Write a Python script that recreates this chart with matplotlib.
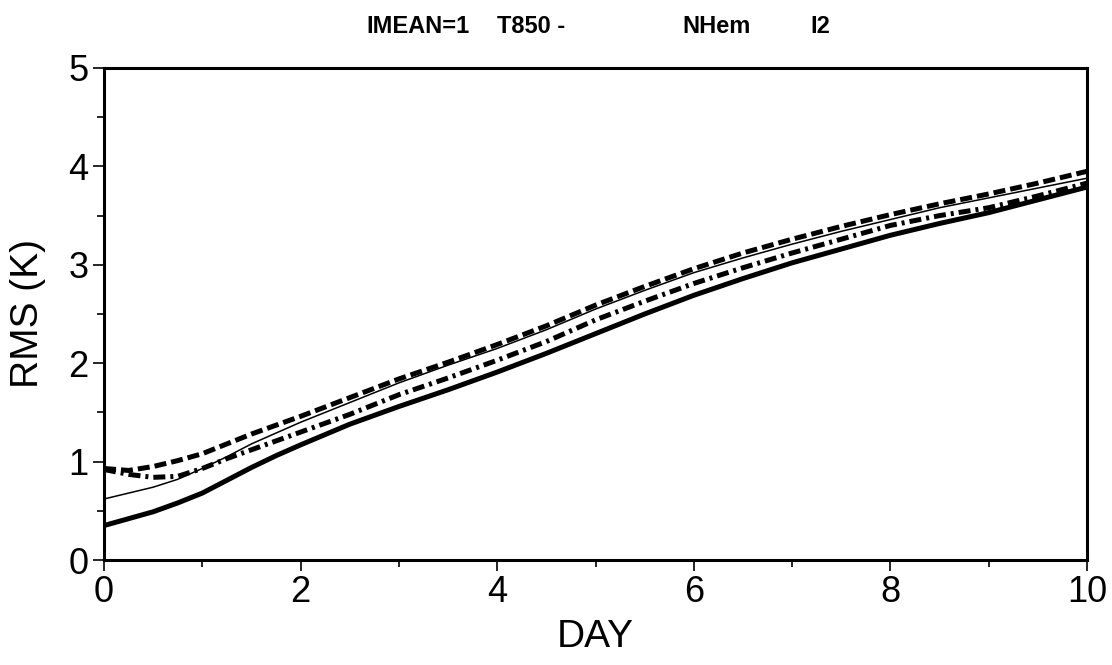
import matplotlib
matplotlib.use('Agg')
import matplotlib.pyplot as plt
from matplotlib.ticker import MultipleLocator
import numpy as np

plt.rcParams['font.family'] = ['Liberation Sans', 'DejaVu Sans']

# forecast day
day = [0, 0.25, 0.5, 0.75, 1, 1.25, 1.5, 1.75, 2, 2.5, 3, 3.5, 4, 4.5, 5, 5.5, 6, 6.5, 7, 7.5, 8, 8.5, 9, 9.5, 10]

# RMS error curves (K)
rms_thick = [0.35, 0.42, 0.49, 0.58, 0.68, 0.81, 0.94, 1.06, 1.17, 1.38, 1.56, 1.73, 1.91, 2.10, 2.30, 2.50, 2.69, 2.86, 3.02, 3.16, 3.30, 3.42, 3.53, 3.66, 3.79]
rms_thin = [0.62, 0.68, 0.74, 0.82, 0.93, 1.05, 1.18, 1.29, 1.40, 1.60, 1.80, 1.98, 2.15, 2.34, 2.55, 2.74, 2.92, 3.07, 3.21, 3.34, 3.46, 3.58, 3.68, 3.78, 3.88]
rms_dash = [0.93, 0.91, 0.95, 1.01, 1.08, 1.18, 1.28, 1.37, 1.46, 1.65, 1.84, 2.01, 2.19, 2.38, 2.59, 2.78, 2.96, 3.12, 3.26, 3.39, 3.51, 3.62, 3.72, 3.83, 3.95]
rms_dashdot = [0.92, 0.87, 0.84, 0.85, 0.93, 1.03, 1.12, 1.21, 1.30, 1.48, 1.68, 1.85, 2.03, 2.22, 2.44, 2.63, 2.81, 2.97, 3.12, 3.26, 3.40, 3.50, 3.58, 3.70, 3.83]

W, H = 1112, 665
fig = plt.figure(figsize=(W / 100, H / 100), dpi=100)
ax = fig.add_axes([104 / W, 1 - 560 / H, (1087 - 104) / W, (560 - 68) / H])

ax.plot(day, rms_thick, color='black', lw=3.6, solid_capstyle='butt')
ax.plot(day, rms_thin, color='black', lw=1.1)
ax.plot(day, rms_dash, color='black', lw=3.6, linestyle=(0, (2.4, 1.0)))
ax.plot(day, rms_dashdot, color='black', lw=3.6, linestyle=(0, (2.4, 1.0, 0.6, 1.0)))

ax.set_xlim(0, 10)
ax.set_ylim(0, 5)
ax.xaxis.set_major_locator(MultipleLocator(2))
ax.xaxis.set_minor_locator(MultipleLocator(1))
ax.yaxis.set_major_locator(MultipleLocator(1))
ax.yaxis.set_minor_locator(MultipleLocator(0.5))
ax.tick_params(which='major', direction='out', length=8, width=1.2, labelsize=26, pad=3)
ax.tick_params(which='minor', direction='out', length=5, width=1.2)
for s in ax.spines.values():
    s.set_linewidth(2.2)

ax.set_xlabel('DAY', fontsize=28, labelpad=6)
ax.set_ylabel('RMS (K)', fontsize=28, labelpad=16)

# title pieces
ty = 1 - 33 / H
for txt, px in [('IMEAN=1', 366), ('T850 -', 497), ('NHem', 682), ('I2', 810)]:
    fig.text(px / W, ty, txt, fontsize=17, fontweight='bold', ha='left', va='baseline')

fig.savefig('out.png', dpi=100)
